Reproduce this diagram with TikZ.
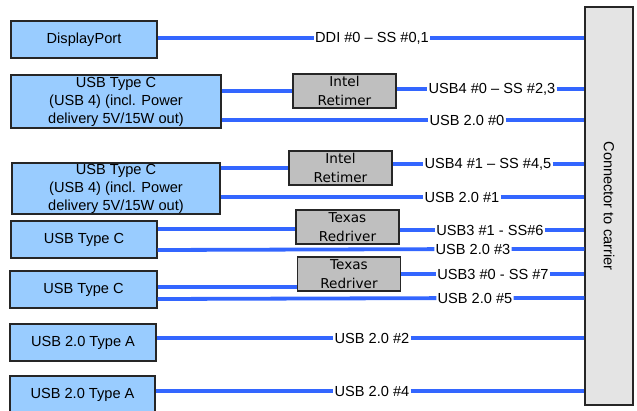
\documentclass[tikz,border=0pt]{standalone}
\usepackage{fontspec}
\setmainfont{Liberation Sans}
\newfontfamily\chipfont{DejaVu Sans}
\definecolor{portblue}{RGB}{153,204,255}
\definecolor{chipgray}{RGB}{191,191,191}
\definecolor{conngray}{RGB}{228,228,228}
\definecolor{busblue}{RGB}{51,102,255}

\begin{document}
\begin{tikzpicture}[x=1pt, y=-1pt, font=\fontsize{14.6}{18}\selectfont,
		port/.style={draw=black!85, line width=1.2pt, fill=portblue, align=center, inner sep=0pt},
		chip/.style={draw=black!85, line width=1.2pt, fill=chipgray, align=center, inner sep=0pt,
			minimum width=103pt, minimum height=34pt, font=\chipfont\fontsize{13.6}{19}\selectfont},
		sig/.style={inner sep=1pt},
		bus/.style={draw=busblue, line width=3.8pt}]

		\useasboundingbox (0,0) rectangle (637,410);

		\node[port, minimum width=146pt, minimum height=37pt] (dp)    at ( 84.0, 39.5) {DisplayPort};
		\node[port, minimum width=210pt, minimum height=53pt] (usbcA) at (116.0,101.5) {USB Type C\\(USB 4) (incl. Power\\delivery 5V/15W out)};
		\node[port, minimum width=208pt, minimum height=51pt] (usbcB) at (116.0,188.5) {USB Type C\\(USB 4) (incl. Power\\delivery 5V/15W out)};
		\node[port, minimum width=146pt, minimum height=37pt] (tcA)   at ( 84.0,239.5) {USB Type C};
		\node[port, minimum width=147pt, minimum height=37pt] (tcB)   at ( 83.5,289.5) {USB Type C};
		\node[port, minimum width=146pt, minimum height=37pt] (taA)   at ( 83.0,342.5) {USB 2.0 Type A};
		\node[port, minimum width=145pt, minimum height=37pt] (taB)   at ( 82.5,394.5) {USB 2.0 Type A};

		\node[chip] (retA) at (344.5, 91.0) {Intel\\Retimer};
		\node[chip] (retB) at (340.5,168.0) {Intel\\Retimer};
		\node[chip] (redA) at (347.5,227.0) {Texas\\Redriver};
		\node[chip] (redB) at (349.0,274.0) {Texas\\Redriver};

		\node[draw=black!85, line width=1.2pt, fill=conngray, minimum width=48pt, minimum height=398pt] (conn) at (609,206) {};
		\node[rotate=-90] (conntext) at (conn) {Connector to carrier};

		\node[sig] (ddi)   at (372, 38) {DDI \#0 -- SS \#0,1};
		\node[sig] (usb4A) at (492, 89) {USB4 \#0 -- SS \#2,3};
		\node[sig] (u20A)  at (467,120) {USB 2.0 \#0};
		\node[sig] (usb4B) at (488,164) {USB4 \#1 -- SS \#4,5};
		\node[sig] (u20B)  at (462,197) {USB 2.0 \#1};
		\node[sig] (usb3A) at (490,230) {USB3 \#1 - SS\#6};
		\node[sig] (u23)   at (473,249) {USB 2.0 \#3};
		\node[sig] (usb3B) at (493,274) {USB3 \#0 - SS \#7};
		\node[sig] (u25)   at (475,298) {USB 2.0 \#5};
		\node[sig] (u22)   at (372,338) {USB 2.0 \#2};
		\node[sig] (u24)   at (372,391) {USB 2.0 \#4};

		\draw[bus] (dp.east |- ddi) -- (ddi) -- (ddi -| conn.west);

		\draw[bus] (usbcA.east |- retA) -- (retA);
		\draw[bus] (retA.east |- usb4A) -- (usb4A) -- (usb4A -| conn.west);
		\draw[bus] (usbcA.east |- u20A) -- (u20A) -- (u20A -| conn.west);

		\draw[bus] (usbcB.east |- retB) -- (retB);
		\draw[bus] (retB.east |- usb4B) -- (usb4B) -- (usb4B -| conn.west);
		\draw[bus] (usbcB.east |- u20B) -- (u20B) -- (u20B -| conn.west);

		\draw[bus] (tcA.east |- 0,229) -- (redA.west |- 0,229);
		\draw[bus] (redA.east |- usb3A) -- (usb3A) -- (usb3A -| conn.west);
		\draw[bus] (tcA.east |- 0,250) -- (u23) -- (u23 -| conn.west);

		\draw[bus] (tcB.east |- 0,287) -- (redB.west |- 0,287);
		\draw[bus] (redB) -- (usb3B) -- (usb3B -| conn.west);
		\draw[bus] (tcB.east |- 0,299) -- (u25) -- (u25 -| conn.west);

		\draw[bus] (taA.east |- u22) -- (u22) -- (u22 -| conn.west);
		\draw[bus] (taB.east |- u24) -- (u24) -- (u24 -| conn.west);

\end{tikzpicture}
\end{document}
